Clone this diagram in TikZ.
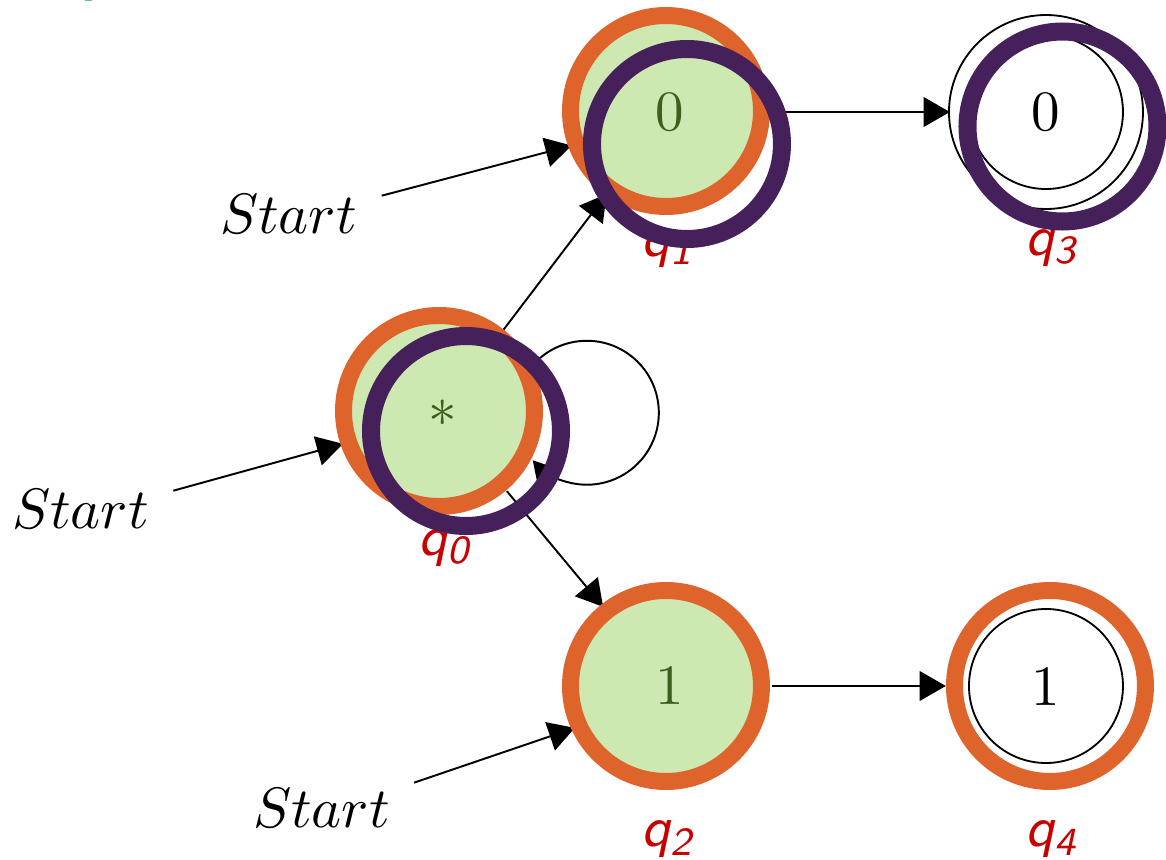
\documentclass[tikz,border=0pt]{standalone}
\usepackage{amsmath}
\usetikzlibrary{arrows.meta,calc}
\definecolor{ringorange}{RGB}{222,100,44}
\definecolor{fillgreen}{RGB}{205,232,176}
\definecolor{ringpurple}{RGB}{69,32,90}
\definecolor{textgreen}{RGB}{62,94,30}
\definecolor{labelred}{RGB}{200,0,0}
\definecolor{markgreen}{RGB}{90,205,140}
\begin{document}
\begin{tikzpicture}[x=0.17544pt,y=-0.17544pt,
  state/.style={circle,minimum size=36.14pt,inner sep=0pt,outer sep=0pt},
  edge/.style={line width=0.34pt,-{Triangle[length=4.6pt,width=5.2pt]}},
  orangering/.style={draw=ringorange,line width=2.98pt},
  greenfill/.style={fill=fillgreen},
  purplering/.style={draw=ringpurple,line width=3.16pt},
  blackring/.style={draw=black,line width=0.32pt},
  statetext/.style={text=textgreen,inner sep=0pt},
  statelabel/.style={text=labelred,anchor=base,inner sep=0pt,font=\sffamily\itshape},
  starttext/.style={anchor=base,inner sep=0pt}]
\useasboundingbox (0,0) rectangle (1166,860);
\fill[markgreen] (85,0) rectangle (92,1);
% state positions
\node[state] (q0) at (441,412) {};
\node[state] (q1) at (669,112) {};
\node[state] (q2) at (669,686) {};
\node[state] (q3) at (1046,112) {};
\node[state] (q4) at (1046,686) {};
% start connectors
\coordinate (s0) at (173.3,490.7);
\coordinate (s1) at (381.7,195.7);
\coordinate (s2) at (414,782.7);
\draw[edge] (s0) -- (q0.198.7);
\draw[edge] (s1) -- (q1.199);
\draw[edge] (s2) -- (q2.204);
% transitions
\draw[edge] (q0) -- (q1);
\draw[edge] (q0) -- (q2);
\draw[edge,shorten >=-1.2pt] (q1) -- (q3);
\draw[edge,shorten >=-0.5pt] (q2) -- (q4);
\draw[edge] (q0.27) arc[start angle=138.7,end angle=-138.7,radius=12.63pt];
% accepting circles
\draw[blackring] (q3) circle[radius=97];
\draw[blackring] (q3) circle[radius=77];
\draw[blackring] (q4) circle[radius=97];
\draw[blackring] (q4) circle[radius=77];
% highlighted fills and orange rings
\path[greenfill,orangering] ($(q0)+(-2,-1)$) circle[radius=95.5];
\path[greenfill,orangering] ($(q1)+(-3,-1)$) circle[radius=95.5];
\path[greenfill,orangering] ($(q2)+(-3,0)$) circle[radius=95.5];
\path[orangering] ($(q4)+(4,0)$) circle[radius=95.5];
% state texts
\node[statetext] (t0) at (443,413) {$*$};
\node[statetext] (t1) at (670,112) {$0$};
\node[statetext] (t2) at (670,686.5) {$1$};
\node[inner sep=0pt] (t3) at (1045.5,112.5) {$0$};
\node[inner sep=0pt] (t4) at (1046,687) {$1$};
% labels
\node[statelabel] (l0) at (445,555) {q$_{\text{0}}$};
\node[statelabel] (l1) at (668,256) {q$_{\text{1}}$};
\node[statelabel] (l2) at (668,847) {q$_{\text{2}}$};
\node[statelabel] (l3) at (1052,255) {q$_{\text{3}}$};
\node[statelabel] (l4) at (1052,847) {q$_{\text{4}}$};
% start texts
\node[starttext] (st0) at (80.5,529) {$Start$};
\node[starttext] (st1) at (288.5,233) {$Start$};
\node[starttext] (st2) at (321.5,828) {$Start$};
% purple rings
\draw[purplering] ($(q0)+(25,19)$) circle[radius=95];
\draw[purplering] ($(q1)+(18,32)$) circle[radius=95];
\draw[purplering] ($(q3)+(16.5,14.5)$) circle[radius=95];
\end{tikzpicture}
\end{document}
